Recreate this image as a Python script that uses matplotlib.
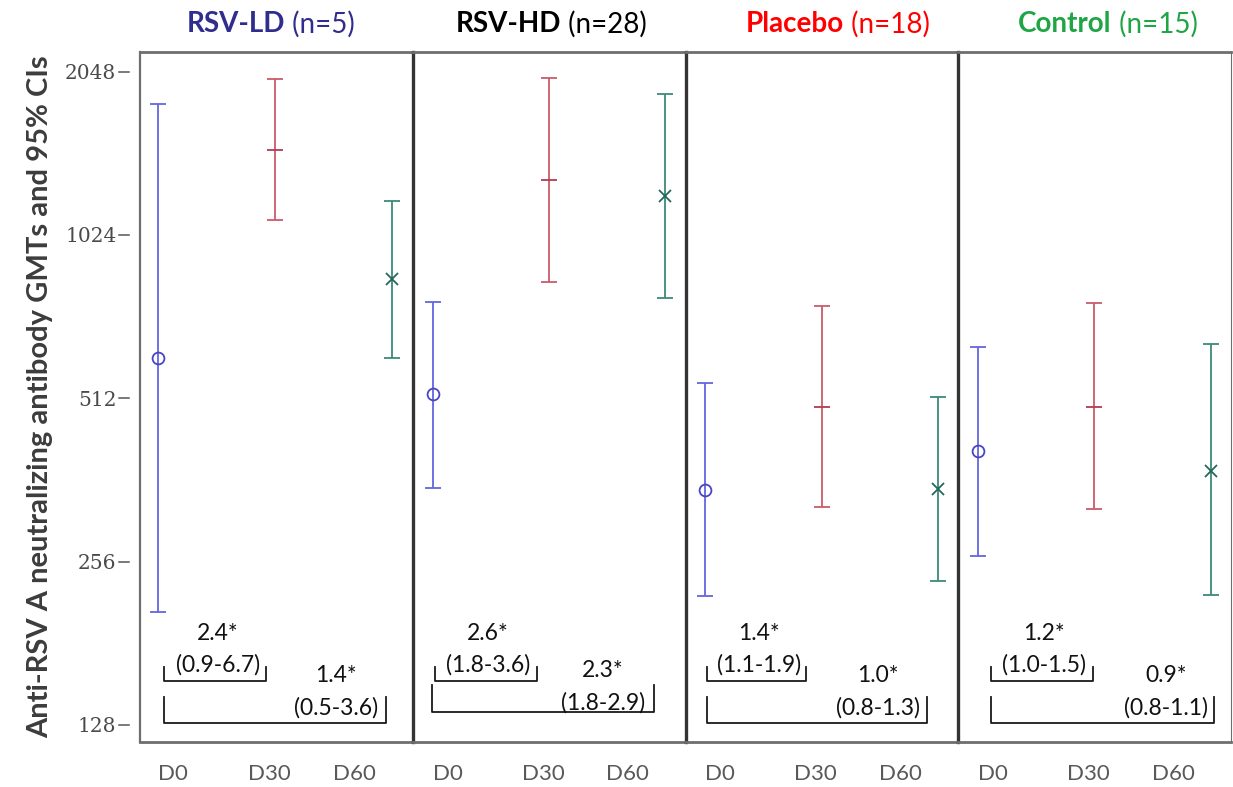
import matplotlib
matplotlib.use("Agg")
import matplotlib.pyplot as plt
import matplotlib.transforms as mtransforms

plt.rcParams['font.family'] = ['Lato', 'DejaVu Sans']

# data
groups = ["RSV-LD", "RSV-HD", "Placebo", "Control"]
n_subj = [5, 28, 18, 15]
visits = ["D0", "D30", "D60"]

gmt_ld = [608, 1470, 850]
lo_ld = [207, 1092, 608]
hi_ld = [1788, 1988, 1184]

gmt_hd = [522, 1294, 1209]
lo_hd = [350, 839, 784]
hi_hd = [771, 1996, 1865]

gmt_pl = [347, 494, 348]
lo_pl = [221, 323, 236]
hi_pl = [547, 758, 515]

gmt_ct = [410, 494, 376]
lo_ct = [262, 320, 222]
hi_ct = [637, 768, 645]

# fold rise vs D0 (with 95% CI)
fr_d30 = [2.4, 2.6, 1.4, 1.2]
ci_d30 = [(0.9, 6.7), (1.8, 3.6), (1.1, 1.9), (1.0, 1.5)]
fr_d60 = [1.4, 2.3, 1.0, 0.9]
ci_d60 = [(0.5, 3.6), (1.8, 2.9), (0.8, 1.3), (0.8, 1.1)]

yticks = [128, 256, 512, 1024, 2048]

# styles
title_colors = ["#302d8f", "#000000", "#ff0000", "#1fa544"]
line_colors = ["#6666dd", "#cc5a6a", "#3d8a7a"]
mark_colors = ["#4646c4", "#b03c50", "#23685a"]
markers = ["o", "_", "x"]

# layout bits (axes fractions) for the fold-rise brackets
small_x = [(0.088, 0.462), (0.081, 0.456), (0.077, 0.441), (0.121, 0.493)]
big_x = [(0.088, 0.903), (0.070, 0.886), (0.077, 0.886), (0.121, 0.937)]
big_y = [(0.0275, 0.065), (0.0435, 0.083), (0.0275, 0.065), (0.0275, 0.065)]
t30_x = [0.285, 0.276, 0.268, 0.314]
t60_x = [0.718, 0.697, 0.706, 0.762]
t60_y = [0.096, 0.104, 0.096, 0.096]
title_cx = [271, 551, 838, 1108]

all_gmt = [gmt_ld, gmt_hd, gmt_pl, gmt_ct]
all_lo = [lo_ld, lo_hd, lo_pl, lo_ct]
all_hi = [hi_ld, hi_hd, hi_pl, hi_ct]

fig, axes = plt.subplots(1, 4, figsize=(12.33, 7.87), dpi=100, sharey=True)
fig.subplots_adjust(left=140/1233, right=1231/1233, bottom=1-742/787, top=1-52/787, wspace=0)

for i, ax in enumerate(axes):
    g, lo, hi = all_gmt[i], all_lo[i], all_hi[i]
    for j in range(3):
        ax.errorbar(j, g[j], yerr=[[g[j]-lo[j]], [hi[j]-g[j]]], fmt=markers[j],
                    ecolor=line_colors[j], color=mark_colors[j], mfc='none',
                    ms=12 if markers[j] == "_" else 8.5, mew=1.3, elinewidth=1.3,
                    capsize=6, capthick=1.3)
    ax.set_yscale('log', base=2)
    ax.set_ylim(119, 2226)
    ax.set_xlim(-0.17 if i else -0.15, 2.175)
    ax.set_xticks([0.13, 0.95, 1.68])
    ax.set_xticklabels(visits)
    ax.tick_params(axis='x', length=0, pad=16, labelsize=16, labelcolor='#595959')
    ax.minorticks_off()

    for s in ['top', 'bottom']:
        ax.spines[s].set_color('#6e6e6e')
        ax.spines[s].set_linewidth(2)
    ax.spines['right'].set_visible(i == 3)
    ax.spines['right'].set_color('#6e6e6e')
    ax.spines['left'].set_color('#6e6e6e' if i == 0 else '#333333')
    ax.spines['left'].set_linewidth(1.6 if i == 0 else 2.4)

    # brackets + fold rise text
    k = dict(transform=ax.transAxes, color='#1a1a1a', lw=1.3, clip_on=False)
    x0, x1 = small_x[i]
    ax.plot([x0, x0, x1, x1], [0.109, 0.088, 0.088, 0.109], **k)
    x0, x1 = big_x[i]
    y0, y1 = big_y[i]
    ax.plot([x0, x0, x1, x1], [y1, y0, y0, y1], **k)
    tk = dict(transform=ax.transAxes, ha='center', va='center', fontsize=16.5, color='#111111')
    ax.text(t30_x[i], 0.157, f"{fr_d30[i]:.1f}*", **tk)
    ax.text(t30_x[i], 0.112, f"({ci_d30[i][0]:.1f}-{ci_d30[i][1]:.1f})", **tk)
    ax.text(t60_x[i], t60_y[i], f"{fr_d60[i]:.1f}*", **tk)
    ax.text(t60_x[i], t60_y[i]-0.047, f"({ci_d60[i][0]:.1f}-{ci_d60[i][1]:.1f})", **tk)

ax0 = axes[0]
ax0.set_yticks(yticks)
ax0.set_yticklabels([str(v) for v in yticks], fontfamily='DejaVu Serif')
ax0.tick_params(axis='y', length=0, pad=17, labelsize=14.5, labelcolor='#4a4a4a')
for ax in axes[1:]:
    ax.tick_params(axis='y', length=0, labelleft=False)
trans = mtransforms.blended_transform_factory(ax0.transAxes, ax0.transData)
for v in yticks:
    ax0.plot([-0.078, -0.04], [v, v], transform=trans, color='#555555', lw=1.1, clip_on=False)

ax0.set_ylabel("Anti-RSV A neutralizing antibody GMTs and 95% CIs",
               fontsize=21, fontweight='bold', color='#3c3c3c')
ax0.yaxis.set_label_coords(-0.32, 0.5)

# panel titles: bold group name + normal (n=..), centred as a pair
fig.canvas.draw()
r = fig.canvas.get_renderer()
for i in range(4):
    t1 = fig.text(0, 0, groups[i], fontsize=20, fontweight='bold', color=title_colors[i],
                  ha='left', va='center')
    t2 = fig.text(0, 0, f" (n={n_subj[i]})", fontsize=20, color=title_colors[i],
                  ha='left', va='center')
    w1 = t1.get_window_extent(r).width
    w2 = t2.get_window_extent(r).width
    left = title_cx[i] - (w1 + w2) / 2
    yy = 1 - 24/787
    t1.set_position((left/1233, yy))
    t2.set_position(((left + w1)/1233, yy))

fig.savefig("out.png", dpi=100)
